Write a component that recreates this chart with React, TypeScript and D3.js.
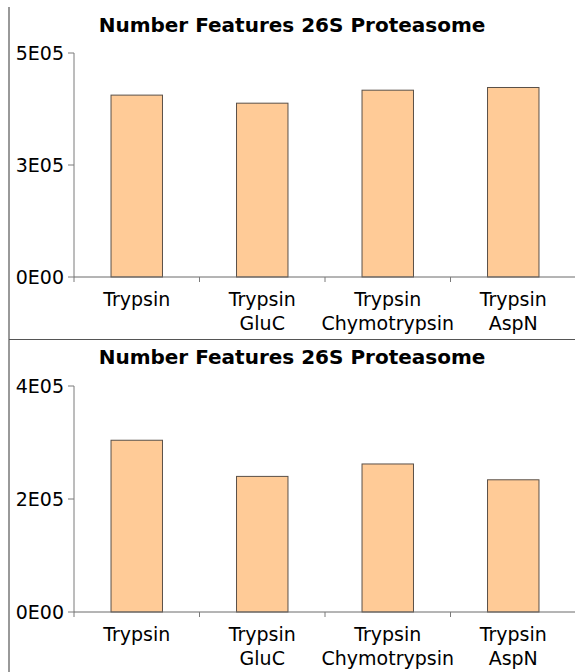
import React from "react";
import * as d3 from "d3";

// categories (multi-line x labels)
const categories = ["Trypsin", "Trypsin GluC", "Trypsin Chymotrypsin", "Trypsin AspN"];
const labelLines = [["Trypsin"], ["Trypsin", "GluC"], ["Trypsin", "Chymotrypsin"], ["Trypsin", "AspN"]];

// values
const topValues = [406000, 388000, 417000, 423000];
const bottomValues = [304000, 240000, 262000, 234000];

const topTicks = [0, 250000, 500000];
const bottomTicks = [0, 200000, 400000];

const title = "Number Features 26S Proteasome";

const W = 575;
const H = 672;
const FONT = "DejaVu Sans, Verdana, sans-serif";

// 0 -> 0E00, 250000 -> 3E05
function sciFmt(v: number) {
  const s = v.toExponential(0); // e.g. "3e+5"
  const [m, e] = s.split("e");
  const exp = Math.abs(parseInt(e, 10));
  return m + "E" + (exp < 10 ? "0" + exp : String(exp));
}

type PanelProps = {
  top: number;
  yStart: number;
  yEnd: number;
  values: number[];
  ticks: number[];
};

function Panel({ top, yStart, yEnd, values, ticks }: PanelProps) {
  const x = d3.scaleBand<string>().domain(categories).range([74, 576]).padding(0);
  const y = d3
    .scaleLinear()
    .domain([0, ticks[ticks.length - 1]])
    .range([yEnd, yStart]);
  const barW = x.bandwidth() * 0.41;
  const bounds = categories.map((c) => x(c) as number);

  return (
    <g>
      <text
        x={292}
        y={top + 25}
        textAnchor="middle"
        fontFamily={FONT}
        fontWeight="bold"
        fontSize={20}
        fill="#000"
      >
        {title}
      </text>

      {/* bars */}
      {values.map((v, i) => {
        const cx = (x(categories[i]) as number) + x.bandwidth() / 2;
        return (
          <rect
            key={i}
            x={cx - barW / 2}
            y={y(v)}
            width={barW}
            height={y(0) - y(v)}
            fill="#ffcb97"
            stroke="#5a5048"
            strokeWidth={1}
          />
        );
      })}

      {/* y axis */}
      <line x1={74} x2={74} y1={y(ticks[ticks.length - 1])} y2={y(0) + 5} stroke="#7a7a7a" strokeWidth={1} />
      {ticks.map((t) => (
        <g key={t}>
          <line x1={68} x2={74} y1={y(t)} y2={y(t)} stroke="#7a7a7a" strokeWidth={1} />
          <text
            x={64}
            y={y(t)}
            dy="0.36em"
            textAnchor="end"
            fontFamily={FONT}
            fontSize={19}
            fill="#000"
          >
            {sciFmt(t)}
          </text>
        </g>
      ))}

      {/* x axis */}
      <line x1={74} x2={W} y1={y(0)} y2={y(0)} stroke="#6a6a6a" strokeWidth={1} />
      {bounds.slice(1).map((b, i) => (
        <line key={i} x1={b} x2={b} y1={y(0)} y2={y(0) + 5} stroke="#7a7a7a" strokeWidth={1} />
      ))}
      {labelLines.map((lines, i) => {
        const cx = (x(categories[i]) as number) + x.bandwidth() / 2;
        return (
          <text
            key={i}
            x={cx}
            y={y(0) + 29}
            textAnchor="middle"
            fontFamily={FONT}
            fontSize={19}
            fill="#000"
          >
            {lines.map((l, j) => (
              <tspan key={j} x={cx} dy={j === 0 ? 0 : 24}>
                {l}
              </tspan>
            ))}
          </text>
        );
      })}
    </g>
  );
}

export default function App() {
  return (
    <svg
      width={W}
      height={H}
      style={{ position: "absolute", left: 0, top: 0, background: "#fff" }}
    >
      <rect x={0} y={0} width={W} height={H} fill="#fff" />
      {/* frame lines */}
      <line x1={9} x2={9} y1={7} y2={H} stroke="#555" strokeWidth={1.2} />
      <line x1={9} x2={W} y1={339.5} y2={339.5} stroke="#555" strokeWidth={1.2} />

      <Panel top={7} yStart={53} yEnd={277} values={topValues} ticks={topTicks} />
      <Panel top={339} yStart={386} yEnd={612} values={bottomValues} ticks={bottomTicks} />
    </svg>
  );
}
